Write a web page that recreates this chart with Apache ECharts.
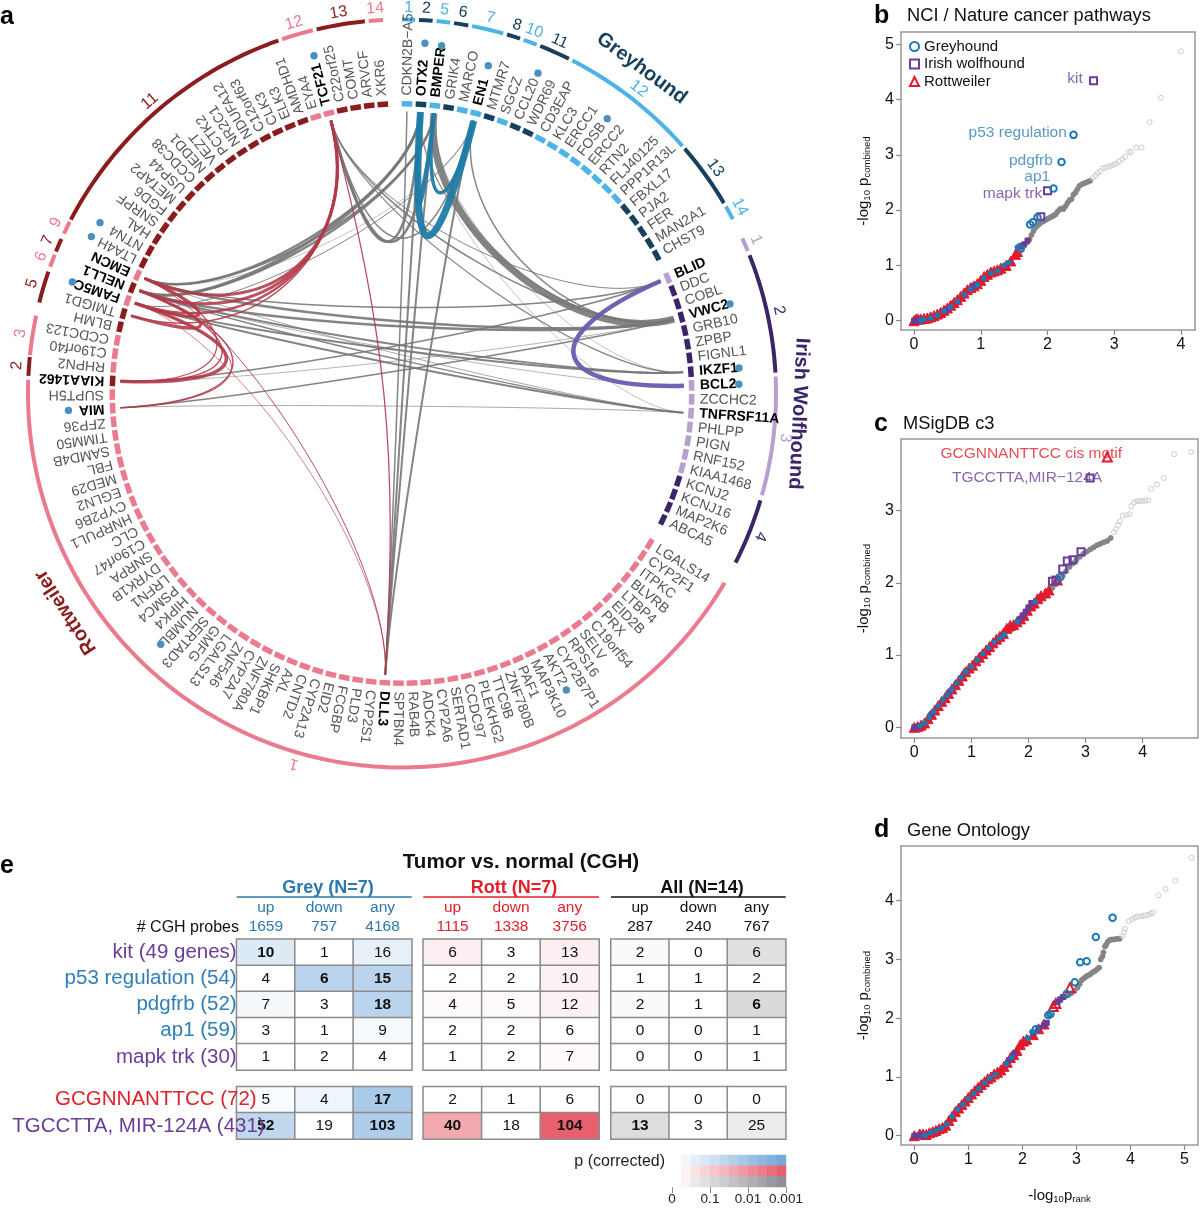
<!DOCTYPE html>
<html>
<head>
<meta charset="utf-8">
<style>html,body{margin:0;background:#fff}#main{width:1200px;height:1208px}</style>
<script src="https://cdn.jsdelivr.net/npm/echarts@6/dist/echarts.min.js"></script>
</head>
<body>
<div id="main"></div>
<script>
// ---- panel a: genes clockwise from the top, per breed
const greyGenes = ['CDKN2B−A5','OTX2','BMPER','GRIK4','MARCO','EN1','MTMR7','SGCZ','CCL20','WDR69','CD3EAP','KLC3','ERCC1','FOSB','ERCC2','RTN2','FLJ40125','PPP1R13L','FBXL17','PJA2','FER','MAN2A1','CHST9'];
const irishGenes = ['BLID','DDC','COBL','VWC2','GRB10','ZPBP','FIGNL1','IKZF1','BCL2','ZCCHC2','TNFRSF11A','PHLPP','PIGN','RNF152','KIAA1468','KCNJ2','KCNJ16','MAP2K6','ABCA5'];
const rottGenes = ['LGALS14','CYP2F1','ITPKC','BLVRB','LTBP4','EID2B','PRX','C19orf54','SELV','RPS16','CYP2B7P1','AKT2','MAP3K10','PAF1','ZNF780B','TTC9B','PLEKHG2','CCDC97','SERTAD1','CYP2A6','ADCK4','RAB4B','SPTBN4','DLL3','CYP2S1','PLD3','FCGBP','EID2','CYP2A13','CNTD2','AXL','SHKBP1','ZNF780A','CYP2A7','ZNF546','LGALS13','GMFG','SERTAD3','NUMBL','HIPK4','PSMC4','LRFN1','DYRK1B','SNRPA','C19orf47','CLC','HNRPUL1','CYP2B6','EGLN2','MED29','FBL','SAMD4B','TIMM50','ZFP36','MIA','SUPT5H','KIAA1462','RHPN2','C19orf40','CCDC123','BLMH','TMIGD1','FAM5C','NELL1','EMCN','LTA4H','NTN4','HAL','SNRPF','FGD6','METAP2','USP44','CCDC38','NEDD1','VEZT','PCTK2','NR2C1','NDUFA12','C12orf63','CLK3','ELK3','AMDHD1','EYA4','TCF21','C22orf25','COMT','ARVCF','XKR6'];
const boldGenes = ['OTX2','BMPER','EN1','BLID','VWC2','IKZF1','BCL2','TNFRSF11A','DLL3','KIAA1462','FAM5C','NELL1','EMCN','MIA','TCF21'];
const darkGenes = ['OTX2','GRIK4','MTMR7','CCL20','WDR69','FBXL17','PJA2','FER','MAN2A1','CHST9',
  'DDC','COBL','VWC2','GRB10','ZPBP','FIGNL1','IKZF1','KCNJ2','KCNJ16','MAP2K6','ABCA5',
  'KIAA1462','BLMH','TMIGD1','NELL1','LTA4H','NTN4','HAL','SNRPF','FGD6','METAP2','USP44','CCDC38','NEDD1','VEZT','PCTK2','NR2C1','NDUFA12','C12orf63','CLK3','ELK3','AMDHD1','C22orf25','COMT','ARVCF','XKR6'];
const markedGenes = [['TCF21',349],['NTN4',347],['LTA4H',348],['FAM5C',348],['OTX2',351],['BMPER',350],['EN1',339],['CCL20',348],['FOSB',343],['VWC2',340],['IKZF1',338],['BCL2',337],['MIA',334],['NUMBL',348],['AKT2',339]];
// chromosome: name, first angle, last angle
const greyChroms = [['1',0,2],['2',2.6,4.7],['5',5.3,7.4],['6',8,10.2],['7',10.8,15.7],['8',16.3,18.4],['10',19,21.1],['11',21.7,26.5],['12',27.1,48.6],['13',49.1,59.4],['14',60,62.2]];
const irishChroms = [['1',65.5,67.6],['2',68.3,86.8],['3',87.4,105.8],['4',106.6,116.9]];
const rottChroms = [['1',120.4,272.1],['2',272.7,275.6],['3',275.9,282],['5',284.1,289],['6',289.8,291.8],['7',292.3,294.4],['9',295.3,297.3],['11',297.7,340.7],['12',341.3,346.2],['13',346.8,354.3],['14',354.9,357.1]];
const greyDarkChroms = ['2','6','8','11','13'];
const irishDarkChroms = ['2','4'];
const rottDarkChroms = ['2','5','7','11','13'];
const breedNames = [['Greyhound',36.4,404],['Irish Wolfhound',92.9,397],['Rottweiler',237,401]];
// links: gene, gene, shared weight
const rottLinks = [['TCF21','EMCN',3],['TCF21','NELL1',3],['TCF21','FAM5C',2.5],['TCF21','TMIGD1',1.5],['TCF21','DLL3',1.3],['EMCN','FAM5C',3],['NELL1','TMIGD1',3],['FAM5C','KIAA1462',3.5],['NELL1','KIAA1462',1.5],['EMCN','KIAA1462',1.3],['NELL1','MIA',1.5],['FAM5C','MIA',1],['EMCN','DLL3',1],['FAM5C','DLL3',0.7]];
const greyLinks = [['OTX2','EN1',7],['OTX2','BMPER',4],['BMPER','EN1',3.5]];
const irishLinks = [['BLID','BCL2',4.5]];
const crossLinks = [['BMPER','VWC2',7],['EN1','VWC2',1.5],['OTX2','VWC2',1],['TCF21','OTX2',2.5],['TCF21','BMPER',2.5],['TCF21','EN1',1.5],['TCF21','VWC2',1.5],['TCF21','IKZF1',1.2],['TCF21','BLID',1],
  ['EMCN','OTX2',2.5],['EMCN','BMPER',2],['NELL1','OTX2',3],['NELL1','BMPER',2.5],['FAM5C','EN1',1],['EMCN','EN1',0.5],
  ['EMCN','VWC2',2.5],['NELL1','VWC2',2.5],['EMCN','BLID',1.5],['NELL1','IKZF1',2],['FAM5C','IKZF1',2],['FAM5C','TNFRSF11A',2],['NELL1','BCL2',0.6],['NELL1','TNFRSF11A',1.5],['EMCN','TNFRSF11A',0.7],['KIAA1462','BLID',1.5],['MIA','VWC2',1.5],['MIA','TNFRSF11A',0.7],['KIAA1462','VWC2',0.6],
  ['OTX2','DLL3',2],['BMPER','DLL3',2],['EN1','DLL3',2],['BMPER','IKZF1',0.5],['OTX2','TNFRSF11A',0.5],['CDKN2B−A5','DLL3',1.5]];
const linkBend = {'OTX2|EN1':120,'OTX2|BMPER':159,'BMPER|EN1':179,'BLID|BCL2':145,'BMPER|VWC2':173,'EN1|VWC2':180,'OTX2|VWC2':180,'TCF21|OTX2':112,'TCF21|BMPER':112,'TCF21|EN1':120,
  'EMCN|FAM5C':197,'NELL1|TMIGD1':190,'FAM5C|KIAA1462':147,'NELL1|KIAA1462':155,'EMCN|KIAA1462':165,
  'TCF21|EMCN':150,'TCF21|NELL1':150,'TCF21|FAM5C':150,'TCF21|TMIGD1':150,'TCF21|DLL3':60,'NELL1|MIA':140,'FAM5C|MIA':140,
  'EMCN|OTX2':200,'EMCN|BMPER':200,'NELL1|OTX2':200,'NELL1|BMPER':200,'FAM5C|EN1':200,'EMCN|EN1':200,'EMCN|DLL3':170,'FAM5C|DLL3':170};

// ---- panel b
const bOther = [[1.55,1.25],[1.6,1.3],[1.65,1.36],[1.7,1.42],[1.73,1.47],[1.76,1.55],[1.79,1.62],[1.82,1.68],[1.85,1.72],[1.88,1.75],[1.91,1.78],[1.94,1.8],[1.97,1.82],[2,1.84],[2.03,1.86],[2.06,1.88],[2.09,1.9],[2.12,1.92],[2.15,1.97],[2.18,2.01],[2.21,2.03],[2.24,2.02],[2.27,2.07],[2.3,2.13],[2.33,2.18],[2.36,2.2],[2.39,2.28],[2.42,2.32],[2.45,2.38],[2.48,2.44],[2.52,2.47],[2.56,2.49],[2.6,2.51],[2.64,2.53]];
const bTail = [[2.68,2.58],[2.72,2.62],[2.75,2.67],[2.79,2.7],[2.83,2.76],[2.87,2.77],[2.91,2.78],[2.95,2.8],[2.99,2.82],[3.03,2.84],[3.07,2.88],[3.12,2.92],[3.16,2.96],[3.22,3.05],[3.25,3.05],[3.33,3.13],[3.41,3.13],[3.53,3.59],[3.7,4.03],[4,4.87]];
const bRott = [[0,0],[.03,.03],[.06,.03],[.1,.03],[.15,.04],[.2,.05],[.25,.07],[.3,.09],[.35,.12],[.4,.15],[.45,.19],[.5,.23],[.55,.28],[.6,.33],[.65,.38],[.7,.44],[.75,.5],[.8,.56],[.85,.6],[.9,.63],[.95,.67],[1,.73],[1.05,.8],[1.1,.84],[1.15,.88],[1.2,.9],[1.25,.92],[1.3,.95],[1.38,1],[1.45,1.08],[1.52,1.2],[1.55,1.25]];
const bGrey = [[.1,.01],[.15,.02],[.25,.05],[.35,.1],[.45,.17],[.55,.25],[.65,.35],[.75,.47],[.85,.57],[.95,.65],[1.05,.77],[1.15,.86],[1.25,.9],[1.35,1],[1.42,1.05],[1.55,1.33],[1.6,1.3],[1.74,1.74],[1.78,1.78],[1.85,1.87],[2.09,2.39],[2.21,2.87],[2.39,3.36]];
const bIrish = [[0,0],[.05,0],[.1,.01],[.5,.2],[.9,.63],[1.6,1.35],[1.65,1.38],[1.7,1.45],[1.9,1.88],[2,2.35],[2.69,4.34]];
const bNotes = [['kit',2.53,4.37,'#6a3d9a'],['p53 regulation',2.29,3.4,'#2f7fb5'],['pdgfrb',2.08,2.89,'#2f7fb5'],['ap1',2.04,2.6,'#2f7fb5'],['mapk trk',1.92,2.29,'#6a3d9a']];

// ---- panel c
const cOther = [[.3,.16],[.5,.36],[.7,.55],[.9,.74],[1.1,.9],[1.3,1.06],[1.5,1.21],[1.7,1.35],[1.9,1.52],[2.1,1.68],[2.2,1.75],[2.3,1.82],[2.36,1.87],[2.42,1.93],[2.48,1.98],[2.54,2.04],[2.6,2.1],[2.66,2.16],[2.72,2.22],[2.78,2.27],[2.84,2.32],[2.9,2.36],[2.96,2.4],[3.02,2.43],[3.08,2.46],[3.14,2.49],[3.2,2.52],[3.26,2.54],[3.32,2.56],[3.38,2.58],[3.44,2.62]];
const cTail = [[3.5,2.7],[3.53,2.74],[3.57,2.8],[3.6,2.85],[3.65,2.93],[3.72,2.94],[3.77,2.95],[3.8,3.06],[3.85,3.11],[3.9,3.13],[3.95,3.13],[4,3.13],[4.05,3.14],[4.1,3.14],[4.15,3.3],[4.25,3.36],[4.37,3.45],[4.55,3.78],[4.85,3.81]];
const cRott = [[0,0],[.06,.01],[.12,.03],[.18,.06],[.24,.12],[.3,.18],[.36,.24],[.42,.3],[.48,.36],[.54,.41],[.6,.47],[.66,.53],[.72,.59],[.78,.65],[.84,.71],[.9,.77],[.96,.82],[1.02,.86],[1.08,.92],[1.14,.97],[1.2,1.02],[1.26,1.07],[1.32,1.12],[1.38,1.17],[1.44,1.22],[1.5,1.26],[1.56,1.3],[1.62,1.37],[1.68,1.41],[1.74,1.42],[1.8,1.46],[1.86,1.5],[1.92,1.55],[1.98,1.62],[2.04,1.68],[2.1,1.72],[2.16,1.78],[2.22,1.82],[2.3,1.86],[2.36,1.9],[2.5,2.04],[3.38,3.74]];
const cGrey = [[.1,.02],[.18,.06],[.26,.14],[.34,.22],[.42,.3],[.5,.38],[.58,.45],[.66,.53],[.74,.61],[.82,.69],[.9,.77],[1,.84],[1.1,.93],[1.2,1.02],[1.3,1.1],[1.4,1.18],[1.5,1.24],[1.58,1.28],[1.8,1.46],[2.12,1.74],[2.56,2.08]];
const cIrish = [[0,0],[.04,0],[.3,.18],[.6,.47],[.9,.77],[1.85,1.5],[1.9,1.55],[1.95,1.6],[2,1.66],[2.05,1.72],[2.42,2.02],[2.48,2.04],[2.6,2.19],[2.68,2.3],[2.78,2.32],[2.92,2.43],[3.08,3.45]];
const cNotes = [['GCGNNANTTCC cis motif',3.64,3.78,'#e0202a'],['TGCCTTA,MIR−124A',3.29,3.45,'#6a3d9a']];

// ---- panel d
const dOther = [[1.5,1.04],[1.7,1.22],[1.9,1.42],[2.1,1.65],[2.3,1.84],[2.5,2.06],[2.7,2.3],[2.78,2.36],[2.84,2.39],[2.9,2.42],[2.96,2.46],[3.02,2.52],[3.06,2.58],[3.1,2.65],[3.14,2.68],[3.18,2.71],[3.22,2.73],[3.26,2.75],[3.3,2.78],[3.34,2.8],[3.38,2.83],[3.42,2.86],[3.45,3],[3.48,3.05],[3.5,3.12],[3.53,3.22],[3.55,3.25],[3.58,3.3],[3.62,3.33],[3.66,3.34],[3.7,3.34],[3.75,3.35],[3.8,3.35]];
const dTail = [[3.85,3.4],[3.88,3.46],[3.9,3.52],[3.97,3.65],[4.03,3.68],[4.08,3.71],[4.13,3.73],[4.18,3.73],[4.23,3.74],[4.28,3.75],[4.33,3.76],[4.38,3.78],[4.42,3.8],[4.52,4.09],[4.65,4.2],[4.83,4.34],[5.13,4.73]];
const dRott = [[0,0],[.1,.03],[.16,.03],[.22,.02],[.28,.05],[.34,.07],[.4,.09],[.46,.12],[.52,.14],[.58,.18],[.64,.26],[.7,.33],[.76,.41],[.82,.47],[.88,.53],[.94,.59],[1,.65],[1.06,.71],[1.12,.77],[1.18,.82],[1.24,.87],[1.3,.92],[1.36,.97],[1.42,1],[1.48,1.05],[1.54,1.08],[1.6,1.12],[1.66,1.18],[1.72,1.25],[1.78,1.33],[1.84,1.38],[1.9,1.45],[1.96,1.55],[2.02,1.61],[2.08,1.64],[2.2,1.72],[2.3,1.82],[2.4,1.9],[2.57,2.2],[2.62,2.25],[2.88,2.52]];
const dGrey = [[.2,.01],[.3,.05],[.4,.09],[.5,.13],[.6,.2],[.7,.33],[.8,.45],[.9,.53],[1,.63],[1.1,.72],[1.2,.8],[1.3,.9],[1.4,.98],[1.5,1.04],[1.7,1.22],[1.8,1.33],[2.1,1.66],[2.18,1.77],[2.25,1.81],[2.48,2.05],[2.52,2.07],[2.82,2.41],[2.97,2.61],[3.07,2.95],[3.19,2.97],[3.36,3.38],[3.67,3.71]];
const dIrish = [[0,0],[.03,0],[.06,0],[.09,0],[.12,0],[.15,0],[1.75,1.28],[1.85,1.4],[2.2,1.75],[2.3,1.83],[2.4,1.88],[2.45,1.92],[2.65,2.27],[2.7,2.32],[2.75,2.36]];

// ---- panel e
const pathwayRows = ['kit (49 genes)','p53 regulation (54)','pdgfrb (52)','ap1 (59)','mapk trk (30)'];
const motifRows = ['GCGNNANTTCC (72)','TGCCTTA, MIR-124A (431)'];
const directions = ['up','down','any'];
const greyProbes = [1659,757,4168], rottProbes = [1115,1338,3756], allProbes = [287,240,767];
const greyCounts = [[10,1,16],[4,6,15],[7,3,18],[3,1,9],[1,2,4]], greyMotif = [[5,4,17],[52,19,103]];
const rottCounts = [[6,3,13],[2,2,10],[4,5,12],[2,2,6],[1,2,7]], rottMotif = [[2,1,6],[40,18,104]];
const allCounts = [[2,0,6],[1,1,2],[2,1,6],[0,0,1],[0,0,1]], allMotif = [[0,0,0],[13,3,25]];
// strength of the corrected p, 0 to 1 on the colour key
const greySig = [[.25,0,.18],[0,.5,.5],[.07,0,.5],[0,0,.06],[0,0,0]], greyMotifSig = [[.04,.12,.62],[.45,0,.58]];
const rottSig = [[.1,0,.1],[0,0,.08],[.03,.03,.08],[0,0,0],[0,0,.03]], rottMotifSig = [[0,0,0],[.55,0,1]];
const allSig = [[.04,0,.27],[0,0,0],[.04,0,.33],[0,0,0],[0,0,0]], allMotifSig = [[0,0,0],[.3,0,.17]];
const keyRows = ['Grey','Rott','All'];
const keySteps = [0,1,2,3,4,5,6,7,8,9,10,11];
const keyTicks = ['0','0.1','0.01','0.001'];

const FONT = '"Liberation Sans", Arial, sans-serif';
const BLUE = '#1f78b4', RED = '#e31a2c', PURPLE = '#6a3d9a';
const CGREY = '#2a78ad', CRED = '#e0202a';

const geneAngle = {};
greyGenes.forEach((g, i) => geneAngle[g] = 1 + i * 2.75);
irishGenes.forEach((g, i) => geneAngle[g] = 66.5 + i * 2.74);
rottGenes.forEach((g, i) => geneAngle[g] = 121.3 + i * 2.7);

function tileColor(g) {
  const dark = darkGenes.includes(g);
  if (greyGenes.includes(g)) return dark ? '#17405e' : '#4db3e6';
  if (irishGenes.includes(g)) return dark ? '#3b2569' : '#b79fd0';
  return dark ? '#8a1c1c' : '#ec7a8f';
}

function polarSeries(data, renderItem, z) {
  return { type: 'custom', coordinateSystem: 'polar', polarIndex: 0, silent: true, z: z, data: data, renderItem: renderItem };
}

const allGenes = greyGenes.concat(irishGenes, rottGenes);
const chromRows = greyChroms.map(c => [c, greyDarkChroms.includes(c[0]) ? '#17405e' : '#4db3e6'])
  .concat(irishChroms.map(c => [c, irishDarkChroms.includes(c[0]) ? '#3b2569' : '#b79fd0']))
  .concat(rottChroms.map(c => [c, rottDarkChroms.includes(c[0]) ? '#8a1c1c' : '#ec7a8f']));
const linkRows = [];
crossLinks.forEach(l => linkRows.push([l, '#777777', 0.9]));
rottLinks.forEach(l => linkRows.push([l, '#b2394a', 0.88]));
greyLinks.forEach(l => linkRows.push([l, '#1f7ca6', 0.95]));
irishLinks.forEach(l => linkRows.push([l, '#6b5bb0', 0.95]));

const series = [];

// links
series.push(polarSeries(linkRows.map(r => [282, geneAngle[r[0][0]]]), (params, api) => {
  const row = linkRows[params.dataIndex], l = row[0];
  const a = geneAngle[l[0]], b = geneAngle[l[1]];
  const bend = linkBend[l[0] + '|' + l[1]] !== undefined ? linkBend[l[0] + '|' + l[1]] : 190;
  const p1 = api.coord([282, a]), p2 = api.coord([282, b]), c1 = api.coord([bend, a]), c2 = api.coord([bend, b]);
  return { type: 'bezierCurve', shape: { x1: p1[0], y1: p1[1], x2: p2[0], y2: p2[1], cpx1: c1[0], cpy1: c1[1], cpx2: c2[0], cpy2: c2[1] },
    style: { stroke: row[1], lineWidth: l[2], fill: 'none', opacity: row[2] } };
}, 2));

// gene tiles
series.push(polarSeries(allGenes.map(g => [290, geneAngle[g]]), (params, api) => {
  const g = allGenes[params.dataIndex], a = geneAngle[g];
  const pts = [api.coord([287, a - 1.05]), api.coord([287, a + 1.05]), api.coord([292.5, a + 1.05]), api.coord([292.5, a - 1.05])];
  return { type: 'polygon', shape: { points: pts }, style: { fill: tileColor(g) } };
}, 3));

// gene labels
series.push(polarSeries(allGenes.map(g => [298, geneAngle[g]]), (params, api) => {
  const g = allGenes[params.dataIndex], a = geneAngle[g];
  const p = api.coord([298, a]), bold = boldGenes.includes(g);
  return { type: 'text', x: p[0], y: p[1], rotation: (90 - a) * Math.PI / 180,
    style: { text: g, x: 0, y: 0, align: 'left', verticalAlign: 'middle', fill: bold ? '#000' : '#555',
      font: (bold ? 'bold ' : '') + '14px ' + FONT } };
}, 4));

// marked gene dots
series.push(polarSeries(markedGenes.map(m => [m[1], geneAngle[m[0]]]), (params, api) => {
  const p = api.coord([api.value(0), api.value(1)]);
  return { type: 'circle', shape: { cx: p[0], cy: p[1], r: 3.7 }, style: { fill: '#4a90bf' } };
}, 5));

// chromosome arcs
series.push(polarSeries(chromRows.map(r => [374, r[0][1]]), (params, api) => {
  const row = chromRows[params.dataIndex], c = row[0], pts = [];
  for (let a = c[1]; a < c[2]; a += 1) pts.push(api.coord([374, a]));
  pts.push(api.coord([374, c[2]]));
  return { type: 'polyline', shape: { points: pts }, style: { stroke: row[1], lineWidth: 4, fill: 'none' } };
}, 3));

// chromosome names
series.push(polarSeries(chromRows.map(r => [386, (r[0][1] + r[0][2]) / 2]), (params, api) => {
  const row = chromRows[params.dataIndex], a = api.value(1), p = api.coord([386, a]);
  return { type: 'text', x: p[0], y: p[1], rotation: -a * Math.PI / 180,
    style: { text: row[0][0], x: 0, y: 0, align: 'center', verticalAlign: 'middle', fill: row[1], font: '16px ' + FONT } };
}, 4));

// breed names
const breedColors = ['#17405e', '#3b2569', '#8a1c1c'];
series.push(polarSeries(breedNames.map(b => [b[2], b[1]]), (params, api) => {
  const b = breedNames[params.dataIndex], p = api.coord([b[2], b[1]]);
  return { type: 'text', x: p[0], y: p[1], rotation: -b[1] * Math.PI / 180,
    style: { text: b[0], x: 0, y: 0, align: 'center', verticalAlign: 'middle', fill: breedColors[params.dataIndex], font: 'bold 20px ' + FONT } };
}, 4));

// qq panels
function scatter(name, data, grid, symbol, size, color, width, z, filled) {
  return { type: 'scatter', name: name, data: data, xAxisIndex: grid, yAxisIndex: grid, symbol: symbol, symbolSize: size, silent: true, z: z,
    itemStyle: { color: filled ? color : 'rgba(0,0,0,0)', borderColor: color, borderWidth: width, opacity: 1 } };
}
function notes(list, grid) {
  return { type: 'scatter', data: list.map(n => ({ name: n[0], value: [n[1], n[2]], label: { color: n[3] } })),
    xAxisIndex: grid, yAxisIndex: grid, symbolSize: 0, silent: true, z: 8,
    label: { show: true, position: 'left', distance: 0, formatter: '{b}', fontFamily: FONT, fontSize: 15.5 } };
}
const panels = [[bOther, bTail, bRott, bIrish, bGrey], [cOther, cTail, cRott, cIrish, cGrey], [dOther, dTail, dRott, dIrish, dGrey]];
// below these x values the points pile up into a solid band: rott, irish, grey
const bandLimits = [[1.6, 1.75, 1.6], [2.4, 2.1, 2.4], [2.45, 2.8, 2.2]];
panels.forEach((p, i) => {
  const lim = bandLimits[i];
  series.push(scatter('Other', p[0], i, 'circle', 5, '#858585', 1, 3, true));
  series.push(scatter('Tail', p[1], i, 'circle', 5, '#cdcdcd', 1, 3));
  series.push(scatter('Rott band', p[2].filter(v => v[0] < lim[0]), i, 'triangle', 10, RED, 1, 4, true));
  series.push(scatter('Rottweiler', p[2].filter(v => v[0] >= lim[0]), i, 'triangle', 9, RED, 2, 4));
  series.push(scatter('Irish band', p[3].filter(v => v[0] < lim[1]), i, 'rect', 5, PURPLE, 1, 5, true));
  series.push(scatter('Irish wolfhound', p[3].filter(v => v[0] >= lim[1]), i, 'rect', 7, PURPLE, 2, 5));
  series.push(scatter('Grey band', p[4].filter(v => v[0] < lim[2]), i, 'circle', 5, BLUE, 1, 6, true));
  series.push(scatter('Greyhound', p[4].filter(v => v[0] >= lim[2]), i, 'circle', 6.5, BLUE, 2, 6));
});
series.push(notes(bNotes, 0), notes(cNotes, 1));

// table heatmaps
const tableGroups = [
  { counts: greyCounts, sig: greySig, motif: greyMotif, motifSig: greyMotifSig, cut: 0.2, left: 236.7, width: 175, color: CGREY, probes: greyProbes, labels: true },
  { counts: rottCounts, sig: rottSig, motif: rottMotif, motifSig: rottMotifSig, cut: 0.3, left: 423.3, width: 175.7, color: CRED, probes: rottProbes },
  { counts: allCounts, sig: allSig, motif: allMotif, motifSig: allMotifSig, cut: 0.3, left: 611, width: 174.7, color: '#111', probes: allProbes }
];
const grids = [
  { left: 901, top: 32, width: 294, height: 298, show: true, borderColor: '#999', borderWidth: 1.5 },
  { left: 901, top: 439, width: 297, height: 299, show: true, borderColor: '#999', borderWidth: 1.5 },
  { left: 901, top: 846, width: 297, height: 299, show: true, borderColor: '#999', borderWidth: 1.5 }
];
function qqAxis(min, max, ticks) {
  return { type: 'value', min: min, max: max, splitLine: { show: false }, axisLine: { show: false, onZero: false },
    axisTick: { show: true, length: 5, lineStyle: { color: '#888', width: 1.2 }, customValues: ticks },
    axisLabel: { color: '#111', fontFamily: FONT, fontSize: 16, margin: 7, customValues: ticks } };
}
const nameRich = { a: { fontFamily: FONT, fontSize: 15, color: '#111' }, s: { fontFamily: FONT, fontSize: 9.5, color: '#111', padding: [7, 0, 0, 0] } };
const xAxes = [qqAxis(-0.195, 4.21, [0, 1, 2, 3, 4]), qqAxis(-0.233, 4.97, [0, 1, 2, 3, 4]), qqAxis(-0.246, 5.25, [0, 1, 2, 3, 4, 5])];
xAxes[2].name = '{a|-log}{s|10}{a|p}{s|rank}';
xAxes[2].nameLocation = 'middle';
xAxes[2].nameGap = 42;
xAxes[2].nameTextStyle = { rich: nameRich, padding: [0, 0, 0, 20] };
const yAxes = [qqAxis(-0.168, 5.22, [0, 1, 2, 3, 4, 5]), qqAxis(-0.148, 3.99, [0, 1, 2, 3]), qqAxis(-0.158, 4.93, [0, 1, 2, 3, 4])];
yAxes.forEach(a => {
  a.name = '{a|-log}{s|10}{a| p}{s|combined}';
  a.nameLocation = 'middle';
  a.nameRotate = 90;
  a.nameGap = 29;
  a.nameTextStyle = { rich: nameRich };
});

function tableAxisX(showLabels, g) {
  return { type: 'category', gridIndex: grids.length, data: directions, position: 'top', axisLine: { show: false }, axisTick: { show: false }, splitLine: { show: false },
    axisLabel: { show: showLabels, margin: 3, color: g.color, fontFamily: FONT, fontSize: 15.5, lineHeight: 19, interval: 0,
      formatter: (v, i) => v + '\n' + g.probes[i] } };
}
const blueIdx = [], redIdx = [], greyIdx = [];
const groupIdx = [blueIdx, redIdx, greyIdx];
tableGroups.forEach((g, gi) => {
  [[g.counts, g.sig, pathwayRows, 939.3, 130.7, 0], [g.motif, g.motifSig, motifRows, 1086.7, 52.3, -28]].forEach((t, ti) => {
    const idx = grids.length;
    const rows = t[2];
    const data = [];
    t[0].forEach((row, r) => row.forEach((v, c) => data.push({ value: [c, r, v, t[1][r][c]],
      label: { fontWeight: t[1][r][c] >= g.cut ? 'bold' : 'normal' } })));
    xAxes.push(tableAxisX(ti === 0, g));
    yAxes.push({ type: 'category', gridIndex: idx, data: rows, inverse: true, z: 10, axisLine: { show: false }, axisTick: { show: false }, splitLine: { show: false },
      axisLabel: { show: !!g.labels, interval: 0, margin: t[5], fontFamily: FONT, fontSize: 20.5,
        formatter: v => v.startsWith('GCG') ? '{g|' + v + '}' : v,
        rich: { g: { padding: [0, 8, 0, 0], color: CRED, fontFamily: FONT, fontSize: 20.5 } },
        color: (v) => ['kit (49 genes)', 'mapk trk (30)', 'TGCCTTA, MIR-124A (431)'].includes(v) ? PURPLE : '#2f7fb5' } });
    grids.push({ left: g.left, top: t[3], width: g.width, height: t[4] });
    groupIdx[gi].push(series.length);
    series.push({ type: 'heatmap', xAxisIndex: idx, yAxisIndex: idx, data: data, silent: true, z: 3,
      itemStyle: { borderColor: '#8c8c8c', borderWidth: 1.5 },
      label: { show: true, formatter: p => p.value[2], color: '#111', fontFamily: FONT, fontSize: 15.5 } });
  });
});

// colour key
const keyGrid = grids.length;
grids.push({ left: 672, top: 1155, width: 114, height: 32 });
xAxes.push({ type: 'category', gridIndex: keyGrid, data: keySteps, show: false });
xAxes.push({ type: 'value', gridIndex: keyGrid, min: 0, max: 3, interval: 1, position: 'bottom', splitLine: { show: false }, axisLine: { show: false },
  axisTick: { show: true, length: 6, lineStyle: { color: '#888' } },
  axisLabel: { margin: 5, color: '#222', fontFamily: FONT, fontSize: 13.5, formatter: v => keyTicks[v] } });
yAxes.push({ type: 'category', gridIndex: keyGrid, data: keyRows, inverse: true, show: false });
keyRows.forEach((k, r) => {
  groupIdx[r].push(series.length);
  series.push({ type: 'heatmap', xAxisIndex: xAxes.length - 2, yAxisIndex: yAxes.length - 1, silent: true,
    data: keySteps.map(s => [s, r, s, s / 11]), itemStyle: { borderWidth: 0 } });
});

function txt(text, x, y, font, fill, align, extra) {
  return Object.assign({ type: 'text', x: x, y: y, silent: true, style: { text: text, font: font + ' ' + FONT, fill: fill || '#000', align: align || 'left', verticalAlign: 'middle' } }, extra || {});
}
function rule(x1, x2, y, color) {
  return { type: 'line', silent: true, shape: { x1: x1, y1: y, x2: x2, y2: y }, style: { stroke: color, lineWidth: 1.5 } };
}

const option = {
  animation: false,
  backgroundColor: '#fff',
  polar: { center: [402, 393.5], radius: 410 },
  angleAxis: { type: 'value', min: 0, max: 360, startAngle: 90, clockwise: true, show: false },
  radiusAxis: { type: 'value', min: 0, max: 410, show: false },
  grid: grids,
  xAxis: xAxes.map((a, i) => Object.assign({ gridIndex: i }, a, i > 2 ? {} : { gridIndex: i })),
  yAxis: yAxes.map((a, i) => Object.assign({ gridIndex: i }, a, i > 2 ? {} : { gridIndex: i })),
  legend: { data: ['Greyhound', 'Irish wolfhound', 'Rottweiler'], orient: 'vertical', left: 904, top: 34, itemWidth: 9, itemHeight: 9, itemGap: 2.5, selectedMode: false,
    textStyle: { fontFamily: FONT, fontSize: 15, color: '#111', padding: [0, 0, 0, 0] } },
  visualMap: [
    { type: 'continuous', show: false, min: 0, max: 1, dimension: 3, seriesIndex: blueIdx, inRange: { color: ['#ffffff', '#74a9da'] } },
    { type: 'continuous', show: false, min: 0, max: 1, dimension: 3, seriesIndex: redIdx, inRange: { color: ['#ffffff', '#e8606e'] } },
    { type: 'continuous', show: false, min: 0, max: 1, dimension: 3, seriesIndex: greyIdx, inRange: { color: ['#ffffff', '#8e8e96'] } }
  ],
  graphic: [
    txt('a', 0, 17, 'bold 25px'), txt('b', 874, 16, 'bold 25px'), txt('c', 874, 424, 'bold 25px'), txt('d', 874, 830, 'bold 25px'), txt('e', 0, 866, 'bold 25px'),
    txt('NCI / Nature cancer pathways', 907, 16, '18.3px', '#111'), txt('MSigDB c3', 903, 424, '18.3px', '#111'), txt('Gene Ontology', 907, 831, '18.3px', '#111'),
    txt('Tumor vs. normal (CGH)', 521, 862, 'bold 20.6px', '#111', 'center'),
    txt('Grey (N=7)', 328, 888, 'bold 18px', CGREY, 'center'), txt('Rott (N=7)', 514, 888, 'bold 18px', CRED, 'center'), txt('All (N=14)', 702, 888, 'bold 18px', '#111', 'center'),
    rule(236.7, 411.7, 897, CGREY), rule(423.3, 599, 897, CRED), rule(611, 785.7, 897, '#111'),
    txt('# CGH probes', 239, 928, '16px', '#111', 'right'),
    txt('p (corrected)', 665, 1162, '16px', '#222', 'right')
  ],
  series: series
};

const chart = echarts.init(document.getElementById('main'), null, { renderer: 'canvas' });
chart.setOption(option);
</script>
</body>
</html>
